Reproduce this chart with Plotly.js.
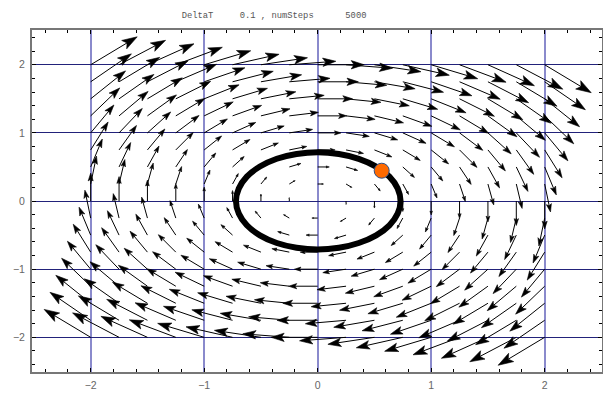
<!DOCTYPE html>
<html>
<head>
<meta charset="utf-8">
<script src="https://cdn.plot.ly/plotly-3.0.1.min.js"></script>
<style>html,body{margin:0;padding:0;background:#fff;}#chart{width:603px;height:393px;}</style>
</head>
<body>
<div id="chart"></div>
<script>
// ---- data ----
// sample positions of the arrows
const gridX = [-2, -1.75, -1.5, -1.25, -1, -0.75, -0.5, -0.25, 0, 0.25, 0.5, 0.75, 1, 1.25, 1.5, 1.75, 2];
const gridY = [-2, -1.75, -1.5, -1.25, -1, -0.75, -0.5, -0.25, 0, 0.25, 0.5, 0.75, 1, 1.25, 1.5, 1.75, 2];
// horizontal component of every arrow in a row (same along a row)
const uByRow = [-2, -1.75, -1.5, -1.25, -1, -0.75, -0.5, -0.25, 0, 0.25, 0.5, 0.75, 1, 1.25, 1.5, 1.75, 2];
// vertical component of every arrow in a column (same along a column)
const vByCol = [2, 1.75, 1.5, 1.25, 1, 0.75, 0.5, 0.25, 0, -0.25, -0.5, -0.75, -1, -1.25, -1.5, -1.75, -2];
// trajectory ring
const ringX = [0.73, 0.705, 0.632, 0.515, 0.362, 0.187, 0, -0.186, -0.36, -0.509, -0.624, -0.695, -0.72, -0.695, -0.624, -0.509, -0.36, -0.186, 0, 0.187, 0.362, 0.515, 0.632, 0.705, 0.73];
const ringY = [0, 0.185, 0.358, 0.506, 0.62, 0.69, 0.716, 0.69, 0.62, 0.506, 0.358, 0.185, 0, -0.184, -0.356, -0.503, -0.616, -0.686, -0.712, -0.686, -0.616, -0.503, -0.356, -0.184, 0];
// current point
const dotX = [0.564];
const dotY = [0.445];
// ticks
const tickVals = [-2, -1, 0, 1, 2];
const tickText = ['\u22122', '\u22121', '0', '1', '2'];
const titleText = 'DeltaT\u00a0\u00a0\u00a0\u00a0\u00a00.1 , numSteps\u00a0\u00a0\u00a0\u00a0\u00a0\u00a05000';

// ---- layout geometry ----
const W = 603, H = 393;
const M = {l: 32, r: 1, t: 30, b: 21};
const xRange = [-2.517, 2.505];
const yRange = [-2.509, 2.51];
const arrowScale = 0.205;
const pxX = (W - M.l - M.r) / (xRange[1] - xRange[0]);
const pxY = (H - M.t - M.b) / (yRange[1] - yRange[0]);

const shaftX = [], shaftY = [], headX = [], headY = [];
for (let j = 0; j < gridY.length; j++) {
  for (let i = 0; i < gridX.length; i++) {
    const u = uByRow[j], v = vByCol[i];
    if (u === 0 && v === 0) continue;
    const x0 = gridX[i], y0 = gridY[j];
    const x1 = x0 + arrowScale * u, y1 = y0 + arrowScale * v;
    const dx = (x1 - x0) * pxX, dy = (y1 - y0) * pxY;
    const L = Math.hypot(dx, dy);
    const ux = dx / L, uy = dy / L;
    const nx = -uy, ny = ux;
    const hl = 0.28 * L, hw = 0.09 * L, notch = 0.78 * hl;
    const toData = (px, py) => [x1 + px / pxX, y1 + py / pxY];
    const back = toData(-ux * notch, -uy * notch);
    const c1 = toData(-ux * hl + nx * hw, -uy * hl + ny * hw);
    const c2 = toData(-ux * hl - nx * hw, -uy * hl - ny * hw);
    shaftX.push(x0, back[0], null);
    shaftY.push(y0, back[1], null);
    headX.push(x1, c1[0], back[0], c2[0], x1, null);
    headY.push(y1, c1[1], back[1], c2[1], y1, null);
  }
}

const traces = [
  {x: shaftX, y: shaftY, mode: 'lines', line: {color: '#000', width: 1}, hoverinfo: 'skip', showlegend: false},
  {x: headX, y: headY, mode: 'lines', fill: 'toself', fillcolor: '#000', line: {color: '#000', width: 0.6}, hoverinfo: 'skip', showlegend: false},
  {x: ringX, y: ringY, mode: 'lines', line: {color: '#000', width: 6, shape: 'spline', smoothing: 1}, hoverinfo: 'skip', showlegend: false},
  {x: dotX, y: dotY, mode: 'markers', marker: {color: '#ff6a00', size: 15, line: {color: '#2b4f86', width: 1}}, hoverinfo: 'skip', showlegend: false}
];

const axisCommon = {
  tickvals: tickVals, ticktext: tickText,
  ticks: 'inside', ticklen: 4, tickwidth: 1, tickcolor: '#000',
  minor: {dtick: 0.2, tick0: 0, ticks: 'inside', ticklen: 3, tickwidth: 1, tickcolor: '#000', showgrid: false},
  showline: true, linecolor: '#777', linewidth: 2, mirror: 'ticks',
  zeroline: false, showgrid: true,
  tickfont: {family: 'Liberation Sans, Arial, sans-serif', size: 10.5, color: '#666'}
};

const layout = {
  width: W, height: H,
  margin: M,
  paper_bgcolor: '#fff', plot_bgcolor: '#fff',
  showlegend: false,
  title: {
    text: titleText,
    font: {family: 'Liberation Mono, Courier New, monospace', size: 8.8, color: '#555'},
    xref: 'container', x: 181.7 / W, xanchor: 'left',
    yref: 'container', y: 1 - 15 / H, yanchor: 'middle'
  },
  xaxis: Object.assign({}, axisCommon, {range: xRange, gridcolor: '#8a8acc', gridwidth: 2, ticklabelstandoff: 2}),
  yaxis: Object.assign({}, axisCommon, {range: yRange, gridcolor: '#22227a', gridwidth: 1, ticklabelstandoff: 3})
};

Plotly.newPlot('chart', traces, layout, {staticPlot: true, displayModeBar: false});
</script>
</body>
</html>
